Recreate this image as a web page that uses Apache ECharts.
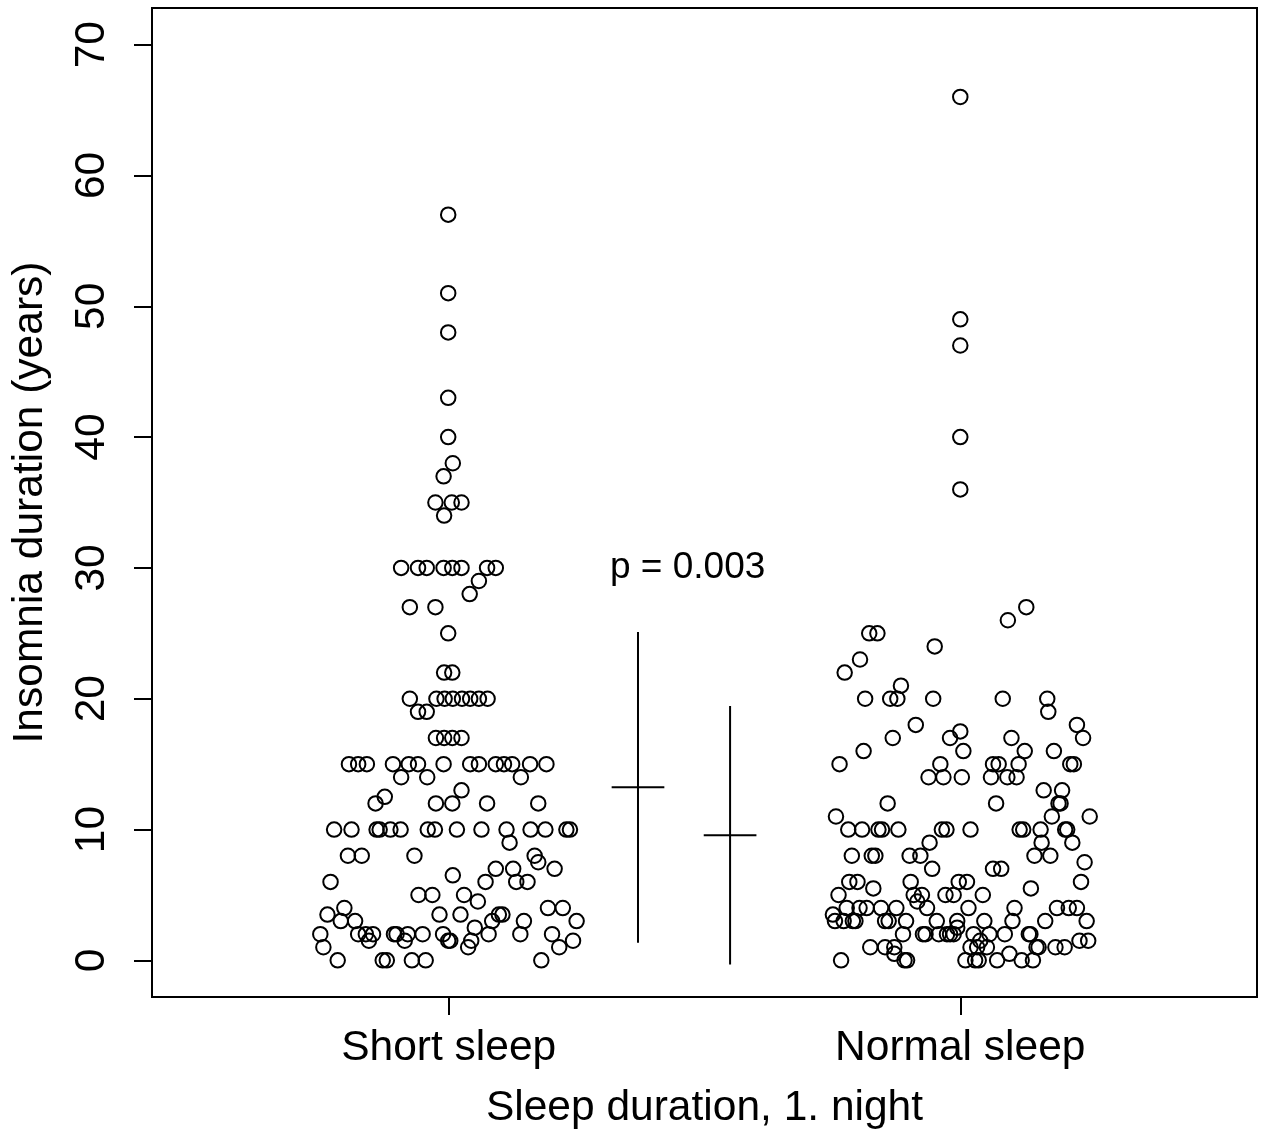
<!DOCTYPE html>
<html>
<head>
<meta charset="utf-8">
<script src="https://cdn.jsdelivr.net/npm/echarts@6/dist/echarts.min.js"></script>
<style>
html,body{margin:0;padding:0;background:#fff;}
#chart{width:1264px;height:1135px;}
</style>
</head>
<body>
<div id="chart"></div>
<script>
// ---- data ----
const categories = ['Short sleep', 'Normal sleep'];
const yTicks = [0, 10, 20, 30, 40, 50, 60, 70];

// Short sleep group: insomnia duration (years) and horizontal jitter
const shortY = [
  57, 51, 48, 43, 40, 38, 37,
  35, 35, 35, 34,
  30, 30, 30, 30, 30, 30, 30, 30,
  29, 28, 27, 27, 25, 22, 22,
  20, 20, 20, 20, 20, 20, 20, 20,
  19, 19, 17, 17, 17, 17,
  15, 15, 15, 15, 15, 15, 15, 15, 15, 15, 15, 15, 15, 15,
  14, 14, 14, 13, 12.5,
  12, 12, 12, 12, 12,
  10, 10, 10, 10, 10, 10, 10, 10, 10, 10, 10, 10, 10, 10, 10,
  9, 8, 8, 8, 8, 7.5, 7, 7, 7, 6.5,
  6, 6, 6, 6, 5, 5, 5, 4.5, 4, 4, 4,
  3.5, 3.5, 3.5, 3.5, 3.5,
  3, 3, 3, 3, 3, 2.5,
  2, 2, 2, 2, 2, 2, 2, 2, 2, 2, 2, 2,
  1.5, 1.5, 1.5, 1.5, 1.5, 1.5,
  1, 1, 1,
  0, 0, 0, 0, 0, 0
];
const shortJitter = [
  -0.001, -0.001, -0.001, -0.001, -0.001, 0.008, -0.010,
  -0.026, 0.006, 0.025, -0.009,
  -0.093, -0.060, -0.043, -0.010, 0.007, 0.025, 0.075, 0.092,
  0.059, 0.041, -0.076, -0.026, -0.001, -0.009, 0.007,
  -0.076, -0.024, -0.008, 0.008, 0.026, 0.042, 0.059, 0.076,
  -0.060, -0.043, -0.025, -0.009, 0.007, 0.025,
  -0.195, -0.177, -0.160, -0.109, -0.078, -0.060, -0.010, 0.042, 0.059, 0.092, 0.108, 0.124, 0.159, 0.191,
  -0.093, -0.042, 0.141, 0.025, -0.125,
  -0.143, -0.025, 0.007, 0.075, 0.175,
  -0.224, -0.190, -0.141, -0.135, -0.114, -0.094, -0.041, -0.027, 0.016, 0.064, 0.113, 0.160, 0.189, 0.230, 0.237,
  0.119, -0.197, -0.170, -0.067, 0.168, 0.175, 0.092, 0.126, 0.207, 0.008,
  -0.231, 0.072, 0.132, 0.154, -0.059, -0.032, 0.030, 0.057, -0.204, 0.194, 0.223,
  -0.237, -0.018, 0.023, 0.098, 0.105,
  -0.211, -0.183, 0.085, 0.147, 0.250, 0.051,
  -0.251, -0.177, -0.162, -0.148, -0.107, -0.102, -0.080, -0.051, -0.011, 0.078, 0.140, 0.202,
  -0.156, -0.086, -0.001, 0.003, 0.044, 0.243,
  -0.245, 0.038, 0.216,
  -0.217, -0.129, -0.121, -0.072, -0.045, 0.181
];

// Normal sleep group
const normalY = [
  66, 49, 47, 40, 36,
  27, 26, 25, 25, 24, 23, 22, 21,
  20, 20, 20, 20, 20, 20,
  19, 18, 18, 17.5,
  17, 17, 17, 17,
  16, 16, 16, 16,
  15, 15, 15, 15, 15, 15, 15,
  14, 14, 14, 14, 14, 14,
  13, 13, 12, 12, 12, 12, 11, 11, 11,
  10, 10, 10, 10, 10, 10, 10, 10, 10, 10, 10, 10, 10,
  9, 9, 9, 8, 8, 8, 8, 8, 8, 8, 7.5, 7, 7, 7,
  6, 6, 6, 6, 6, 6, 5.5, 5.5,
  5, 5, 5, 5, 5, 5, 4.5,
  4, 4, 4, 4, 4, 4, 4, 4, 4, 4, 4, 3.5,
  3, 3, 3, 3, 3, 3, 3, 3, 3, 3, 3, 3, 3, 2.5,
  2, 2, 2, 2, 2, 2, 2, 2, 2, 2, 2, 2,
  1.5, 1.5, 1.5,
  1, 1, 1, 1, 1, 1, 1, 1, 1, 1,
  0.5, 0.5,
  0, 0, 0, 0, 0, 0, 0, 0, 0
];
const normalJitter = [
  0, 0, 0, 0, 0,
  0.129, 0.093, -0.178, -0.162, -0.050, -0.196, -0.226, -0.116,
  -0.186, -0.137, -0.123, -0.053, 0.083, 0.170,
  0.172, -0.087, 0.228, 0.000,
  -0.132, -0.020, 0.100, 0.240,
  -0.189, 0.006, 0.126, 0.183,
  -0.236, -0.039, 0.064, 0.075, 0.114, 0.215, 0.222,
  -0.062, -0.033, 0.003, 0.060, 0.092, 0.110,
  0.163, 0.199, -0.142, 0.070, 0.192, 0.196, -0.243, 0.179, 0.253,
  -0.219, -0.192, -0.160, -0.153, -0.121, -0.036, -0.027, 0.020, 0.116, 0.123, 0.157, 0.205, 0.209,
  -0.060, 0.159, 0.219, -0.212, -0.173, -0.166, -0.099, -0.078, 0.145, 0.176, 0.243, -0.055, 0.064, 0.080,
  -0.217, -0.201, -0.097, -0.003, 0.013, 0.236, -0.170, 0.138,
  -0.238, -0.091, -0.075, -0.029, -0.013, 0.044, -0.084,
  -0.222, -0.197, -0.183, -0.155, -0.125, -0.065, 0.016, 0.106, 0.189, 0.212, 0.228, -0.249,
  -0.245, -0.228, -0.210, -0.205, -0.147, -0.140, -0.106, -0.046, -0.006, 0.047, 0.102, 0.166, 0.247, -0.006,
  -0.112, -0.073, -0.068, -0.042, -0.026, -0.020, -0.013, 0.026, 0.057, 0.087, 0.134, 0.137,
  0.039, 0.233, 0.250,
  -0.176, -0.147, -0.129, 0.020, 0.033, 0.052, 0.149, 0.153, 0.186, 0.204,
  -0.129, 0.096,
  -0.233, -0.109, -0.104, 0.010, 0.029, 0.036, 0.072, 0.120, 0.142
];

// Mean +/- SD bars
const barX = [1.37, 1.55];
const barMean = [13.23, 9.57];
const barLow = [1.35, -0.31];
const barHigh = [25.1, 19.44];

const pText = 'p = 0.003';
const pPos = [1.467, 30];

// ---- chart ----
const FONT = '"Liberation Sans", Arial, Helvetica, sans-serif';
const shortData = shortY.map((y, i) => [1 + shortJitter[i], y]);
const normalData = normalY.map((y, i) => [2 + normalJitter[i], y]);
const barData = barX.map((x, i) => [x, barMean[i], barLow[i], barHigh[i]]);

const chart = echarts.init(document.getElementById('chart'), null, {renderer: 'canvas'});
const circleStyle = {color: 'rgba(0,0,0,0)', borderColor: '#000', borderWidth: 2, opacity: 1};

chart.setOption({
  animation: false,
  backgroundColor: '#fff',
  grid: {left: 152, right: 7, top: 8, bottom: 137, show: true, borderColor: '#000', borderWidth: 2, backgroundColor: 'transparent'},
  xAxis: {
    type: 'value', min: 0.42, max: 2.58,
    splitLine: {show: false},
    axisLine: {show: false, onZero: false},
    axisTick: {show: true, length: 18, lineStyle: {color: '#000', width: 2}, customValues: [1, 2]},
    axisLabel: {
      customValues: [1, 2], margin: 30, fontSize: 42.5, fontFamily: FONT, color: '#000',
      formatter: v => categories[Math.round(v) - 1] || ''
    },
    name: 'Sleep duration, 1. night', nameLocation: 'middle', nameGap: 90,
    nameTextStyle: {fontSize: 42.5, fontFamily: FONT, color: '#000'}
  },
  yAxis: {
    type: 'value', min: -2.8, max: 72.8,
    splitLine: {show: false},
    axisLine: {show: false, onZero: false},
    axisTick: {show: true, length: 18, lineStyle: {color: '#000', width: 2}, customValues: yTicks},
    axisLabel: {customValues: yTicks, rotate: 90, margin: 38, fontSize: 42.5, fontFamily: FONT, color: '#000'},
    name: 'Insomnia duration (years)', nameLocation: 'middle', nameRotate: 90, nameGap: 100,
    nameTextStyle: {fontSize: 42.5, fontFamily: FONT, color: '#000'}
  },
  series: [
    {type: 'scatter', data: shortData, symbol: 'circle', symbolSize: 14.5, itemStyle: circleStyle, clip: false, silent: true},
    {type: 'scatter', data: normalData, symbol: 'circle', symbolSize: 14.5, itemStyle: circleStyle, clip: false, silent: true},
    {
      type: 'custom', data: barData, silent: true, clip: false,
      renderItem: function (params, api) {
        const x = api.value(0), m = api.value(1), lo = api.value(2), hi = api.value(3);
        const top = api.coord([x, hi]), bot = api.coord([x, lo]);
        const l = api.coord([x - 0.0515, m]), r = api.coord([x + 0.0515, m]);
        return {type: 'group', children: [
          {type: 'line', shape: {x1: top[0], y1: top[1], x2: bot[0], y2: bot[1]}, style: {stroke: '#000', lineWidth: 2}},
          {type: 'line', shape: {x1: l[0], y1: l[1], x2: r[0], y2: r[1]}, style: {stroke: '#000', lineWidth: 2}}
        ]};
      }
    },
    {
      type: 'scatter', data: [pPos], symbolSize: 1, itemStyle: {color: 'rgba(0,0,0,0)'}, silent: true,
      label: {show: true, position: 'inside', formatter: pText, fontSize: 37, fontFamily: FONT, color: '#000', opacity: 1, textBorderWidth: 0}
    }
  ]
});
</script>
</body>
</html>
